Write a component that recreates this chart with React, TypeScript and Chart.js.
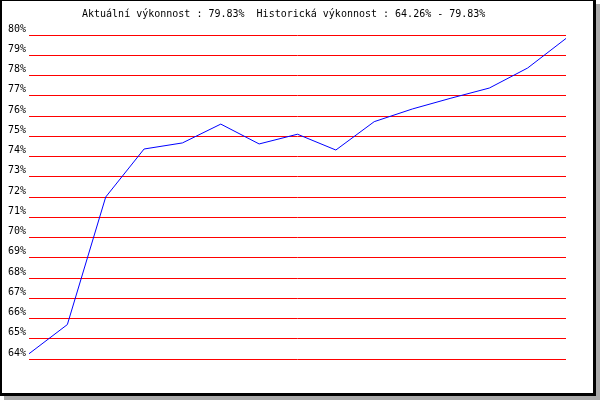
import React, { useEffect, useRef } from "react";
import { Chart, registerables } from "chart.js";

Chart.register(...registerables);

const categories = ["1", "2", "3", "4", "5", "6", "7", "8", "9", "10", "11", "12", "13", "14", "15"];
const performance = [64.26, 65.7, 72.0, 74.37, 74.67, 75.6, 74.62, 75.1, 74.32, 75.72, 76.35, 76.88, 77.38, 78.37, 79.83];
const yMin = 64;
const yMax = 80;
const titleText = "Aktuální výkonnost : 79.83%  Historická výkonnost : 64.26% - 79.83%";

const FONT = "DejaVu Sans Mono";

const framePlugin = {
  id: "frame",
  beforeDraw(chart: any) {
    const ctx = chart.ctx;
    ctx.save();
    ctx.fillStyle = "#a9a9a9";
    ctx.fillRect(4, 4, 596, 396);
    ctx.fillStyle = "#000000";
    ctx.fillRect(0, 0, 596, 396);
    ctx.fillStyle = "#ffffff";
    ctx.fillRect(2, 1, 591, 392);
    ctx.restore();
  },
  afterDraw(chart: any) {
    const ctx = chart.ctx;
    ctx.save();
    ctx.fillStyle = "#000000";
    ctx.font = `10px "${FONT}"`;
    ctx.textBaseline = "alphabetic";
    ctx.textAlign = "left";
    ctx.fillText(titleText, 82, 17);
    ctx.restore();
  },
};

export default function App() {
  const ref = useRef<HTMLCanvasElement>(null);
  useEffect(() => {
    if (!ref.current) return;
    const chart = new Chart(ref.current, {
      type: "line",
      data: {
        labels: categories,
        datasets: [
          {
            data: performance,
            borderColor: "#0000ff",
            borderWidth: 1,
            pointRadius: 0,
            tension: 0,
            fill: false,
          },
        ],
      },
      options: {
        animation: false,
        responsive: false,
        devicePixelRatio: 1,
        layout: { padding: { left: 0, top: 35, right: 34, bottom: 41 } },
        plugins: { legend: { display: false }, tooltip: { enabled: false }, title: { display: false } },
        scales: {
          x: { display: false, offset: false },
          y: {
            min: yMin,
            max: yMax,
            border: { display: false },
            grid: { color: "#ff0000", lineWidth: 1, drawTicks: false },
            afterFit(scale: any) {
              scale.width = 29;
            },
            ticks: {
              stepSize: 1,
              padding: 3,
              labelOffset: -6,
              color: "#000000",
              font: { family: FONT, size: 10 },
              callback: (v: any) => `${v}%`,
            },
          },
        },
      },
      plugins: [framePlugin],
    });
    return () => chart.destroy();
  }, []);
  return (
    <div style={{ position: "fixed", left: 0, top: 0, width: 600, height: 400 }}>
      <canvas ref={ref} width={600} height={400} style={{ display: "block" }} />
    </div>
  );
}
